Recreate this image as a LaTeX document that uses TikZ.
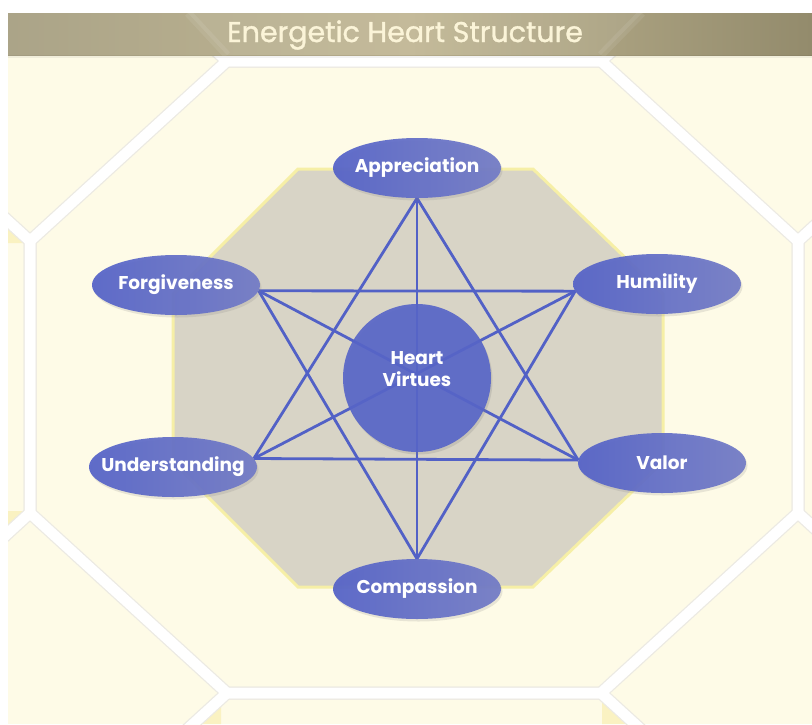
\documentclass[tikz,border=0pt]{standalone}
\usepackage{fontspec}
\setmainfont{Poppins}
\newfontfamily\titlefont{Poppins}[FakeBold=1.2]
\usetikzlibrary{shapes.geometric,shadows,calc}
\definecolor{cream}{HTML}{FEFBE7}
\definecolor{bandgray}{HTML}{ECEAE3}
\definecolor{paleyel}{HTML}{FAF2C2}
\definecolor{octgray}{HTML}{D8D4C6}
\definecolor{octyel}{HTML}{F6EFA6}
\definecolor{barL}{HTML}{ABA488}
\definecolor{barM}{HTML}{BFB592}
\definecolor{barR}{HTML}{938B6C}
\definecolor{titlecol}{HTML}{FBF4D8}
\definecolor{linkcol}{HTML}{5261C6}
\definecolor{ellL}{HTML}{5462C8}
\definecolor{ellR}{HTML}{727BC6}
\pgfdeclarelayer{back}
\pgfdeclarelayer{mid}
\pgfsetlayers{back,mid,main}
\tikzset{
  virtue/.style={ellipse, minimum width=168pt, minimum height=60pt, inner xsep=-30pt, inner ysep=0pt,
    left color=ellL, right color=ellR, fill opacity=0.93, text opacity=1,
    text=white, font=\fontsize{18.5}{22}\selectfont\bfseries,
    drop shadow={opacity=0.18, shadow xshift=1.5pt, shadow yshift=-2.5pt}},
  heartnode/.style={circle, minimum size=148pt, inner sep=0pt, fill=ellL!92!ellR,
    fill opacity=0.9,
    drop shadow={opacity=0.22, shadow xshift=1.5pt, shadow yshift=-2.5pt}},
  hearttext/.style={text=white, align=center, inner sep=0pt,
    font=\fontsize{18.5}{22}\selectfont\bfseries},
  link/.style={draw=linkcol, line width=2.8pt},
  bandout/.style={draw=bandgray, line width=13pt, line join=miter},
  bandin/.style={draw=white, line width=10.5pt, line join=miter}
}
\begin{document}
\begin{tikzpicture}[x=1pt,y=-1pt]
\useasboundingbox (0,0) rectangle (812,724);
\begin{pgfonlayer}{back}
\fill[white] (0,0) rectangle (812,724);
\begin{scope}
\clip (8,13) rectangle (812,724);
\fill[cream] (8,13) rectangle (812,724);
% pale yellow wedges near tile corners
\fill[paleyel] (24,243) -- (8,228) -- (8,243) -- cycle;
\fill[paleyel] (24,511) -- (8,511) -- (8,527) -- cycle;
\fill[paleyel] (221,699) -- (221,724) -- (196,724) -- cycle;
\fill[paleyel] (602,699) -- (602,724) -- (627,724) -- cycle;
\foreach \cx in {-354,414,1182} {
  \foreach \cy in {-255,377,1009} {
    \draw[bandout] (\cx-187,\cy-316) -- (\cx+187,\cy-316) -- (\cx+384,\cy-136) -- (\cx+384,\cy+136) -- (\cx+187,\cy+316) -- (\cx-187,\cy+316) -- (\cx-384,\cy+136) -- (\cx-384,\cy-136) -- cycle;
  }
}
\foreach \cx in {-354,414,1182} {
  \foreach \cy in {-255,377,1009} {
    \draw[bandin] (\cx-187,\cy-316) -- (\cx+187,\cy-316) -- (\cx+384,\cy-136) -- (\cx+384,\cy+136) -- (\cx+187,\cy+316) -- (\cx-187,\cy+316) -- (\cx-384,\cy+136) -- (\cx-384,\cy-136) -- cycle;
  }
}
\end{scope}
% title bar
\shade[left color=barL, right color=barR, middle color=barM] (8,13) rectangle (812,55);
\fill[white, opacity=0.08] (188,13) -- (642,13) -- (601,55) -- (227,55) -- cycle;
\draw[white, opacity=0.08, line width=8pt] (227,55) -- (188,13);
\draw[white, opacity=0.08, line width=8pt] (601,55) -- (642,13);
\fill[black, opacity=0.05] (8,55) rectangle (812,58);
% inner octagon
\filldraw[fill=octgray, draw=octyel, line width=3pt, line join=miter]
  (298,169) -- (533,169) -- (663,294) -- (663,462) -- (533,587) -- (298,587) -- (173,462) -- (173,294) -- cycle;
\end{pgfonlayer}
% title
\node[text=titlecol, font=\titlefont\fontsize{28.5}{32}\selectfont] (title) at (405,35) {Energetic Heart Structure};
% nodes
\node[heartnode] (HV) at (417,378) {};
\node[hearttext] (HVtext) at (417,369) {Heart\\Virtues};
\node[virtue] (A) at (417,168) {Appreciation};
\node[virtue] (C) at (417,589) {Compassion};
\node[virtue] (F) at (176,285) {Forgiveness};
\node[virtue] (H) at (657,284) {Humility};
\node[virtue] (U) at (173,467) {Understanding};
\node[virtue] (V) at (662,463) {Valor};
% connectors
\begin{pgfonlayer}{mid}
\coordinate (pA) at (A.south);
\coordinate (pC) at (C.north);
\coordinate (pF) at (F.-4);
\coordinate (pH) at (H.185);
\coordinate (pU) at (U.6);
\coordinate (pV) at (V.178);
\draw[link] (pA) -- (pU);
\draw[link] (pA) -- (pV);
\draw[link] (pA) -- (pC);
\draw[link] (pC) -- (pF);
\draw[link] (pC) -- (pH);
\draw[link] (pF) -- (pH);
\draw[link] (pU) -- (pV);
\draw[link] (pF) -- (pV);
\draw[link] (pU) -- (pH);
\end{pgfonlayer}
\end{tikzpicture}
\end{document}
